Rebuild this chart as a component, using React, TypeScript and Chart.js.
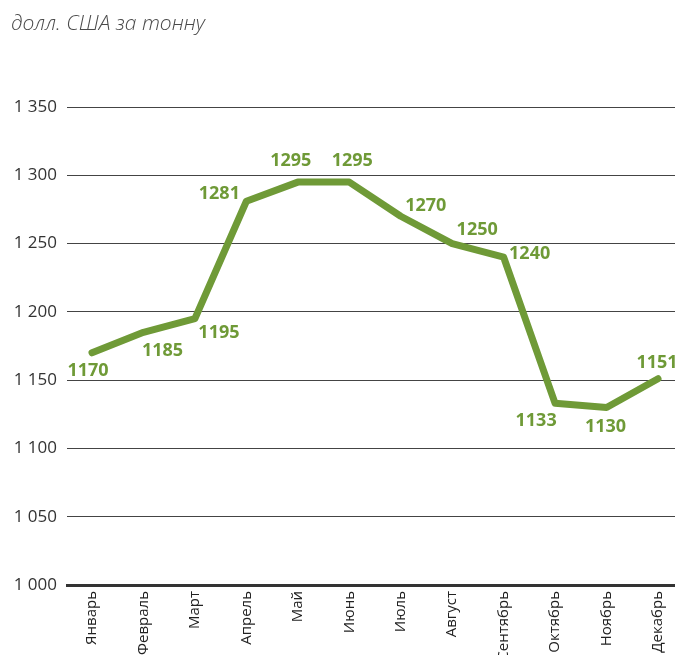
import React, { useEffect, useRef } from "react";
import { Chart, registerables } from "chart.js";

Chart.register(...registerables);

const months = [
  "Январь", "Февраль", "Март", "Апрель", "Май", "Июнь",
  "Июль", "Август", "Сентябрь", "Октябрь", "Ноябрь", "Декабрь",
];
const prices = [1170, 1185, 1195, 1281, 1295, 1295, 1270, 1250, 1240, 1133, 1130, 1151];
const yTicks = [1000, 1050, 1100, 1150, 1200, 1250, 1300, 1350];
const unitTitle = "долл. США за тонну";

// label placement relative to each point (style, not data)
const labelOffsets: [number, number][] = [
  [-4, 18], [19, 19], [24, 14], [-27, -7], [-7, -21], [3, -21],
  [25, -10], [25, -14], [26, -3], [-19, 18], [-1, 19], [-1, -16],
];

const GREEN = "#6f9a37";

const fmt = (v: number) => {
  const s = String(Math.round(v));
  return s.length > 3 ? s.slice(0, s.length - 3) + " " + s.slice(-3) : s;
};

export default function App() {
  const ref = useRef<HTMLCanvasElement | null>(null);

  useEffect(() => {
    document.body.style.margin = "0";
    const canvas = ref.current;
    if (!canvas) return;

    const labelPlugin = {
      id: "pointLabels",
      afterDatasetsDraw(chart: any) {
        const ctx = chart.ctx;
        const meta = chart.getDatasetMeta(0);
        ctx.save();
        ctx.font = "bold 18px 'Open Sans'";
        ctx.fillStyle = GREEN;
        ctx.textAlign = "center";
        ctx.textBaseline = "middle";
        meta.data.forEach((pt: any, i: number) => {
          const [dx, dy] = labelOffsets[i];
          ctx.fillText(String(prices[i]), pt.x + dx, pt.y + dy);
        });
        ctx.restore();
      },
    };

    const titlePlugin = {
      id: "unitTitle",
      afterDraw(chart: any) {
        const ctx = chart.ctx;
        ctx.save();
        ctx.font = "italic 300 21px 'Open Sans'";
        ctx.fillStyle = "#4a4a4a";
        ctx.textAlign = "left";
        ctx.textBaseline = "middle";
        ctx.fillText(unitTitle, 11, 24);
        ctx.restore();
      },
    };

    const chart = new Chart(canvas, {
      type: "line",
      data: {
        datasets: [
          {
            data: prices.map((v, i) => ({ x: i, y: v })),
            borderColor: GREEN,
            borderWidth: 7,
            borderCapStyle: "round",
            borderJoinStyle: "round",
            pointRadius: 0,
            tension: 0,
            fill: false,
          },
        ],
      },
      options: {
        animation: false,
        responsive: false,
        maintainAspectRatio: false,
        layout: { padding: { top: 107, left: 0, right: 0, bottom: 0 } },
        plugins: {
          legend: { display: false },
          tooltip: { enabled: false },
          title: { display: false },
        },
        scales: {
          x: {
            type: "linear",
            min: -0.486,
            max: 11.33,
            afterBuildTicks: (scale: any) => {
              scale.ticks = months.map((_, i) => ({ value: i }));
            },
            afterFit: (scale: any) => {
              scale.height = 70;
              scale.paddingLeft = 0;
              scale.paddingRight = 0;
            },
            grid: { display: false, drawTicks: false },
            border: { display: true, color: "#333333", width: 3 },
            ticks: {
              autoSkip: false,
              maxRotation: 90,
              minRotation: 90,
              padding: 6,
              color: "#222222",
              font: { family: "'Open Sans'", size: 15 },
              callback: (v: any) => months[Math.round(Number(v))] ?? "",
            },
          },
          y: {
            min: 1000,
            max: 1350,
            afterBuildTicks: (scale: any) => {
              scale.ticks = yTicks.map((v) => ({ value: v }));
            },
            afterFit: (scale: any) => {
              scale.width = 67;
              scale.paddingTop = 0;
              scale.paddingBottom = 0;
            },
            grid: { color: "#444444", lineWidth: 1, drawTicks: false },
            border: { display: false },
            ticks: {
              padding: 10,
              color: "#333333",
              font: { family: "'Open Sans'", size: 17 },
              callback: (v: any) => fmt(Number(v)),
            },
          },
        },
      },
      plugins: [labelPlugin, titlePlugin],
    } as any);

    return () => chart.destroy();
  }, []);

  return <canvas ref={ref} width={675} height={655} style={{ display: "block" }} />;
}
